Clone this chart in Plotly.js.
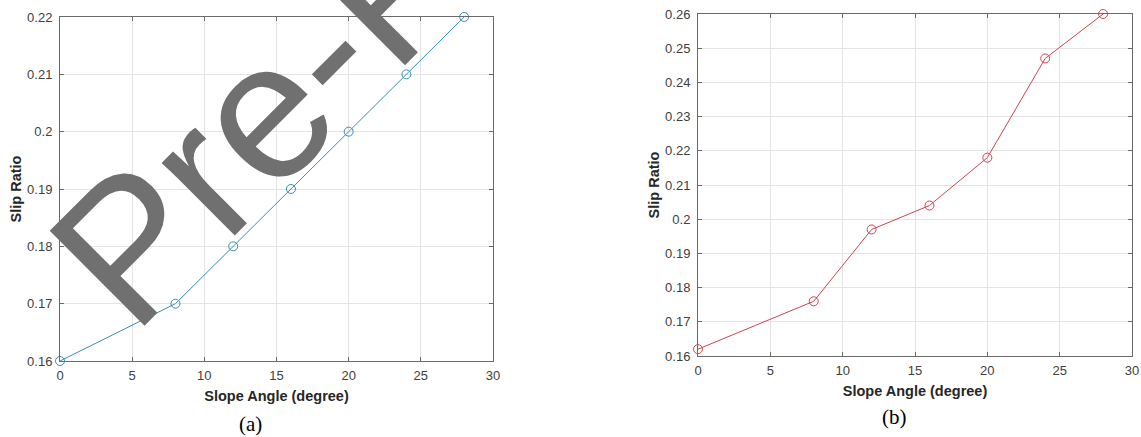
<!DOCTYPE html>
<html>
<head>
<meta charset="utf-8">
<script src="https://cdn.plot.ly/plotly-3.0.1.min.js"></script>
<style>html,body{margin:0;padding:0;background:#fff;}#chart{width:1141px;height:437px;}</style>
</head>
<body>
<div id="chart"></div>
<script>
// Data
const slopeAngle = [0, 8, 12, 16, 20, 24, 28];
const slipRatioA = [0.16, 0.17, 0.18, 0.19, 0.20, 0.21, 0.22];
const slipRatioB = [0.162, 0.176, 0.197, 0.204, 0.218, 0.247, 0.26];
const xTickVals = [0, 5, 10, 15, 20, 25, 30];
const yTickValsA = [0.16, 0.17, 0.18, 0.19, 0.2, 0.21, 0.22];
const yTickTextA = ['0.16', '0.17', '0.18', '0.19', '0.2', '0.21', '0.22'];
const yTickValsB = [0.16, 0.17, 0.18, 0.19, 0.2, 0.21, 0.22, 0.23, 0.24, 0.25, 0.26];
const yTickTextB = ['0.16', '0.17', '0.18', '0.19', '0.2', '0.21', '0.22', '0.23', '0.24', '0.25', '0.26'];
const xTitle = 'Slope Angle (degree)';
const yTitle = 'Slip Ratio';
const panelLabels = ['(a)', '(b)'];
const watermark = 'Pre-Proof';

const W = 1141, H = 437;
const px = v => v / W;
const py = v => 1 - v / H;

const SANS = "'Liberation Sans', Arial, Helvetica, sans-serif";
const SERIF = "'Liberation Serif', 'Times New Roman', Times, serif";
const tickFont = {family: SANS, size: 13, color: '#404040'};
const titleFont = {family: SANS, size: 14.5, color: '#262626', weight: 'bold'};

function axisBase(extra) {
  return Object.assign({
    showline: true, linecolor: '#6a6a6a', linewidth: 1, mirror: 'ticks',
    ticks: 'inside', ticklen: 4, tickwidth: 1, tickcolor: '#6a6a6a',
    showgrid: true, gridcolor: '#e4e4e4', gridwidth: 1,
    zeroline: false, tickfont: tickFont, fixedrange: true
  }, extra);
}

const traces = [
  {x: slopeAngle, y: slipRatioA, xaxis: 'x', yaxis: 'y', type: 'scatter', mode: 'lines+markers',
   line: {color: '#3a8cb8', width: 1}, marker: {symbol: 'circle-open', size: 9, color: '#3a8cb8', line: {width: 1}},
   cliponaxis: false, showlegend: false},
  {x: slopeAngle, y: slipRatioB, xaxis: 'x2', yaxis: 'y2', type: 'scatter', mode: 'lines+markers',
   line: {color: '#d6424e', width: 1}, marker: {symbol: 'circle-open', size: 9, color: '#d6424e', line: {width: 1}},
   cliponaxis: false, showlegend: false}
];

const layout = {
  width: W, height: H,
  margin: {l: 0, r: 0, t: 0, b: 0},
  paper_bgcolor: '#ffffff', plot_bgcolor: '#ffffff',
  showlegend: false,
  xaxis: axisBase({domain: [px(60), px(493)], range: [0, 30], tickvals: xTickVals, anchor: 'y',
    ticklabelstandoff: 2, title: {text: xTitle, font: titleFont, standoff: 9}}),
  yaxis: axisBase({domain: [py(361), py(17)], range: [0.16, 0.22], tickvals: yTickValsA, ticktext: yTickTextA, anchor: 'x',
    ticklabelstandoff: 4, title: {text: yTitle, font: titleFont, standoff: 2}}),
  xaxis2: axisBase({domain: [px(698), px(1132)], range: [0, 30], tickvals: xTickVals, anchor: 'y2',
    ticklabelstandoff: 2, title: {text: xTitle, font: titleFont, standoff: 9}}),
  yaxis2: axisBase({domain: [py(356), py(14)], range: [0.16, 0.26], tickvals: yTickValsB, ticktext: yTickTextB, anchor: 'x2',
    ticklabelstandoff: 4, title: {text: yTitle, font: titleFont, standoff: 2}}),
  annotations: [
    {text: panelLabels[0], xref: 'paper', yref: 'paper', x: px(251), y: py(424), xanchor: 'center', yanchor: 'middle',
     showarrow: false, font: {family: SERIF, size: 21, color: '#000'}},
    {text: panelLabels[1], xref: 'paper', yref: 'paper', x: px(894), y: py(417), xanchor: 'center', yanchor: 'middle',
     showarrow: false, font: {family: SERIF, size: 21, color: '#000'}},
    {text: watermark, xref: 'paper', yref: 'paper', x: px(380), y: py(-6), xanchor: 'center', yanchor: 'middle',
     textangle: -45, showarrow: false,
     font: {family: SANS, size: 195, color: 'rgb(112,112,112)'}}
  ]
};

Plotly.newPlot('chart', traces, layout, {displayModeBar: false, staticPlot: true});
</script>
</body>
</html>
